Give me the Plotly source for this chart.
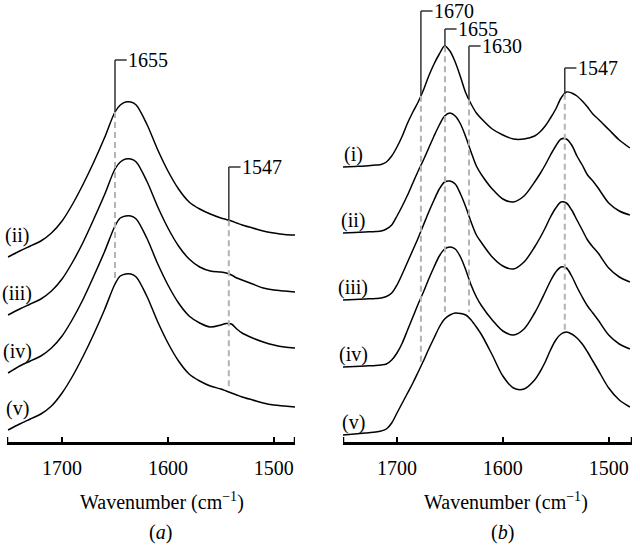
import numpy as np
import plotly.graph_objects as go

# ---------------- data ----------------
# Panel (a): wavenumber grid (cm^-1) and offset absorbance (a.u.)
wn_a = [1751, 1740, 1730, 1720, 1710, 1700, 1690, 1680, 1670, 1660, 1650, 1645,
        1640, 1635, 1630, 1620, 1610, 1600, 1590, 1580, 1570, 1560, 1550, 1545,
        1540, 1535, 1530, 1520, 1510, 1500, 1490, 1480]
a_ii = [185, 191, 196, 201, 209, 221, 238, 258, 280, 304, 330, 337,
        340, 340, 337, 318, 293, 271, 253, 240, 233, 228, 224, 222.5,
        221, 219, 217, 214, 211, 209, 207.5, 207]
a_iii = [127, 133, 138, 143, 151, 163, 180, 200, 223, 247, 273, 280,
         283, 283, 280, 261, 236, 214, 196, 183, 175, 171, 170, 169,
         167, 164, 162, 158, 154, 152, 151, 150]
a_iv = [69, 76, 81, 86, 94, 106, 123, 143, 166, 190, 216, 224,
        226, 226, 223, 204, 179, 157, 139, 126, 119, 115, 117, 118.5,
        118, 113, 109, 104, 100, 97, 95, 94]
a_v = [12, 18, 23, 28, 36, 49, 66, 86, 108, 132, 158, 166,
       168, 168, 165, 146, 121, 99, 81, 68, 61, 56, 53, 51,
       49, 47, 45, 42, 39, 37, 36, 35]
series_a = [a_ii, a_iii, a_iv, a_v]
labels_a = ["(ii)", "(iii)", "(iv)", "(v)"]

# Panel (b)
wn_b = [1751, 1740, 1730, 1720, 1715, 1710, 1705, 1700, 1695, 1690, 1685, 1680,
        1675, 1670, 1665, 1660, 1655, 1650, 1645, 1640, 1635, 1630, 1625, 1620,
        1610, 1600, 1590, 1580, 1570, 1565, 1560, 1555, 1550, 1545, 1540, 1535,
        1530, 1525, 1520, 1515, 1510, 1500, 1490, 1480]
b_i = [275, 275.5, 276, 277, 277.5, 280, 286, 295, 306, 319, 330, 340,
       352, 366, 378, 388, 396, 391, 380, 365, 349, 338, 329, 323,
       313, 307, 303, 303, 306, 310, 316, 324, 333, 344, 350, 349,
       346, 341, 335, 328, 323, 312.5, 302, 294]
b_ii = [209, 209.5, 210, 210.5, 211, 213, 217, 226, 236, 247, 259, 271,
        282, 294, 306, 317, 326, 329, 326, 318, 305, 290, 276, 267,
        253, 243, 240, 246, 260, 268, 277, 287, 296, 303, 303, 297,
        286, 277, 267, 261, 254, 239, 231, 227]
b_iii = [142, 142.5, 143, 143.5, 144, 145.5, 149, 157, 168, 180, 192, 204,
         217, 230, 242, 253, 260, 261, 258, 248, 235, 220, 207, 199,
         185, 176, 173, 180, 195, 204, 214, 225, 234, 240, 239, 232,
         222, 212, 202, 195, 189, 174, 165, 160]
b_iv = [75, 75.5, 76, 76.5, 77, 78, 82, 89, 99, 112, 125, 138,
        150, 163, 175, 186, 193, 195, 193, 185, 172, 157, 145, 136,
        122, 111, 107, 113, 129, 139, 150, 161, 170, 175, 174, 166,
        155, 145, 136, 129, 122, 107, 98, 93]
b_v = [7, 8, 9, 10, 11, 13, 19, 29, 39, 49, 59, 70,
       81, 93, 104, 115, 123, 127, 129, 128.5, 127, 122, 115, 107,
       87, 66, 54, 53, 62, 70, 80, 92, 102, 108, 110, 108,
       104, 98, 90, 81, 72, 54, 42, 35]
series_b = [b_i, b_ii, b_iii, b_iv, b_v]
labels_b = ["(i)", "(ii)", "(iii)", "(iv)", "(v)"]

# band markers: (label, position as drawn, lower end of the dashed guide)
marks_a = [("1655", 1650.0, 160), ("1547", 1542.5, 54)]
marks_b = [("1670", 1677.4, 80), ("1655", 1654.7, 130),
           ("1630", 1632.0, 130), ("1547", 1541.5, 112)]

tick_vals = [1700, 1600, 1500]
tick_text = ["1700", "1600", "1500"]

# ---------------- styling ----------------
FONT = "Liberation Serif"
FS = 20
W, H = 640, 545
XA_RANGE = [1752, 1480]
XB_RANGE = [1751, 1478]
PLOT_H = 442  # plot-area height in px (bottom margin holds the axis texts)

fig = go.Figure()

for ys in series_a:
    fig.add_trace(go.Scatter(x=wn_a, y=ys, mode="lines", xaxis="x", yaxis="y",
                             line=dict(color="black", width=1.5, shape="spline", smoothing=0.9),
                             hoverinfo="skip", showlegend=False))
for ys in series_b:
    fig.add_trace(go.Scatter(x=wn_b, y=ys, mode="lines", xaxis="x2", yaxis="y2",
                             line=dict(color="black", width=1.5, shape="spline", smoothing=0.9),
                             hoverinfo="skip", showlegend=False))

shapes = []
annotations = []

def add_marks(marks, wn, top_series, xr, yr, bracket_tops, hlen):
    for (lab, pos, low), top in zip(marks, bracket_tops):
        ycurve = float(np.interp(pos, wn[::-1], top_series[::-1]))
        shapes.append(dict(type="line", xref=xr, yref=yr, x0=pos, x1=pos, y0=ycurve, y1=low,
                           line=dict(color="#b3b3b3", width=2, dash="6px,4px")))
        shapes.append(dict(type="line", xref=xr, yref=yr, x0=pos, x1=pos, y0=ycurve, y1=top,
                           line=dict(color="#333333", width=1.5)))
        shapes.append(dict(type="line", xref=xr, yref=yr, x0=pos, x1=pos - hlen, y0=top, y1=top,
                           line=dict(color="#333333", width=1.5)))
        annotations.append(dict(xref=xr, yref=yr, x=pos - hlen - 0.5, y=top, text=lab,
                                showarrow=False, xanchor="left", yanchor="middle", borderpad=0,
                                font=dict(family=FONT, size=FS, color="black")))

add_marks(marks_a, wn_a, a_ii, "x", "y", [382, 275], 11)
add_marks(marks_b, wn_b, b_i, "x2", "y2", [431, 413, 396, 374], 11)

# end caps of the wavenumber axes
for xr, yr, rng in [("x", "y", XA_RANGE), ("x2", "y2", XB_RANGE)]:
    for xe in rng:
        shapes.append(dict(type="line", xref=xr, yref=yr, x0=xe, x1=xe, y0=0, y1=5,
                           line=dict(color="black", width=2.5)))

for ys, lab in zip(series_a, labels_a):
    annotations.append(dict(xref="x", yref="y", x=1742.5, y=ys[0] + 22, text=lab,
                            showarrow=False, xanchor="center", yanchor="middle",
                            font=dict(family=FONT, size=FS, color="black")))
for ys, lab in zip(series_b, labels_b):
    annotations.append(dict(xref="x2", yref="y2", x=1741.5, y=ys[0] + 13, text=lab,
                            showarrow=False, xanchor="center", yanchor="middle",
                            font=dict(family=FONT, size=FS, color="black")))

# axis titles and panel letters (paper coordinates: plot area spans y 0..1)
for xc_title, xc_letter, sub in [(162, 160, "a"), (506, 502, "b")]:
    annotations.append(dict(xref="paper", yref="paper", x=xc_title / W, y=(PLOT_H - 501) / PLOT_H,
                            text="Wavenumber (cm<sup>\u22121</sup>)",
                            showarrow=False, xanchor="center", yanchor="middle",
                            font=dict(family=FONT, size=FS, color="black")))
    annotations.append(dict(xref="paper", yref="paper", x=xc_letter / W, y=(PLOT_H - 532) / PLOT_H,
                            text="(<i>" + sub + "</i>)", showarrow=False,
                            xanchor="center", yanchor="middle",
                            font=dict(family=FONT, size=FS, color="black")))

def xaxis(dom, rng):
    return dict(domain=dom, range=rng, showgrid=False, zeroline=False,
                showline=True, linewidth=3, linecolor="black",
                ticks="inside", ticklen=5, tickwidth=1.5, tickcolor="black",
                tickvals=tick_vals, ticktext=tick_text,
                ticklabelstandoff=6,
                tickfont=dict(family=FONT, size=FS, color="black"),
                fixedrange=True)

def yaxis(anchor):
    return dict(range=[0, PLOT_H], visible=False, domain=[0, 1], anchor=anchor, fixedrange=True)

fig.update_layout(
    width=W, height=H,
    margin=dict(l=0, r=0, t=0, b=H - PLOT_H, pad=0),
    paper_bgcolor="white", plot_bgcolor="white",
    font=dict(family=FONT, size=FS, color="black"),
    xaxis=xaxis([7 / W, 295 / W], XA_RANGE) | dict(anchor="y"),
    xaxis2=xaxis([343 / W, 632 / W], XB_RANGE) | dict(anchor="y2"),
    yaxis=yaxis("x"),
    yaxis2=yaxis("x2"),
    shapes=shapes,
    annotations=annotations,
    showlegend=False,
)

fig.write_html("out.html", config={"displayModeBar": False})
